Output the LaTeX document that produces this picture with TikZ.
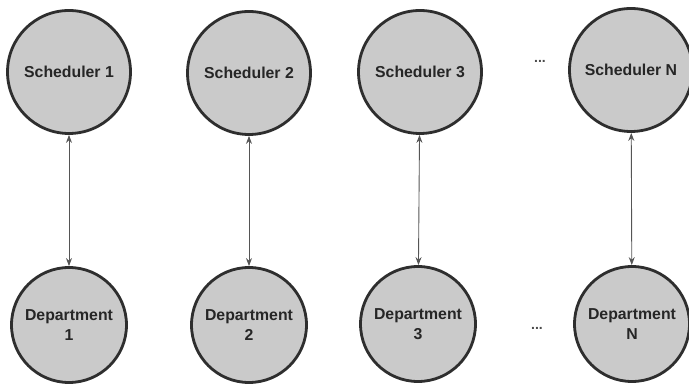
\documentclass[tikz,border=0pt]{standalone}
\usepackage{fontspec}
\setmainfont{Liberation Sans}
\usepackage{xcolor}
\usepackage{tikz}
\usetikzlibrary{arrows.meta,positioning}
\definecolor{unitfill}{HTML}{CACACA}
\definecolor{unitline}{HTML}{2E2E2E}
\definecolor{linkline}{HTML}{555555}
\tikzset{
  sched/.style={circle,draw=unitline,fill=unitfill,line width=1.6pt,minimum size=2.46cm,
    inner sep=0pt,align=center,font=\fontsize{9}{11.5}\selectfont\bfseries,text=black!85},
  dept/.style={sched,minimum size=2.3cm},
  dots/.style={font=\fontsize{8}{8}\selectfont\bfseries,text=black!70},
  link/.style={{Stealth[length=1.6mm,width=1.2mm]}-{Stealth[length=1.6mm,width=1.2mm]},line width=0.5pt,draw=linkline}
}
\begin{document}
\begin{tikzpicture}
  \useasboundingbox (0,0) rectangle (13.78,7.72);
  % schedulers
  \node[sched] (s1) at (1.38,6.28) {Scheduler 1};
  \node[sched] (s2) at (4.98,6.26) {Scheduler 2};
  \node[sched] (s3) at (8.40,6.28) {Scheduler 3};
  \node[sched] (sn) at (12.62,6.32) {Scheduler N};
  \node[dots] (sdots) at (10.80,6.50) {...};
  % departments
  \node[dept] (d1) at (1.38,1.22) {Department\\1};
  \node[dept] (d2) at (4.98,1.22) {Department\\2};
  \node[dept] (d3) at (8.36,1.24) {Department\\3};
  \node[dept] (dn) at (12.64,1.24) {Department\\N};
  \node[dots] (ddots) at (10.74,1.16) {...};
  % links
  \draw[link] (s1) -- (d1);
  \draw[link] (s2) -- (d2);
  \draw[link] (s3) -- (d3);
  \draw[link] (sn) -- (dn);
\end{tikzpicture}
\end{document}
